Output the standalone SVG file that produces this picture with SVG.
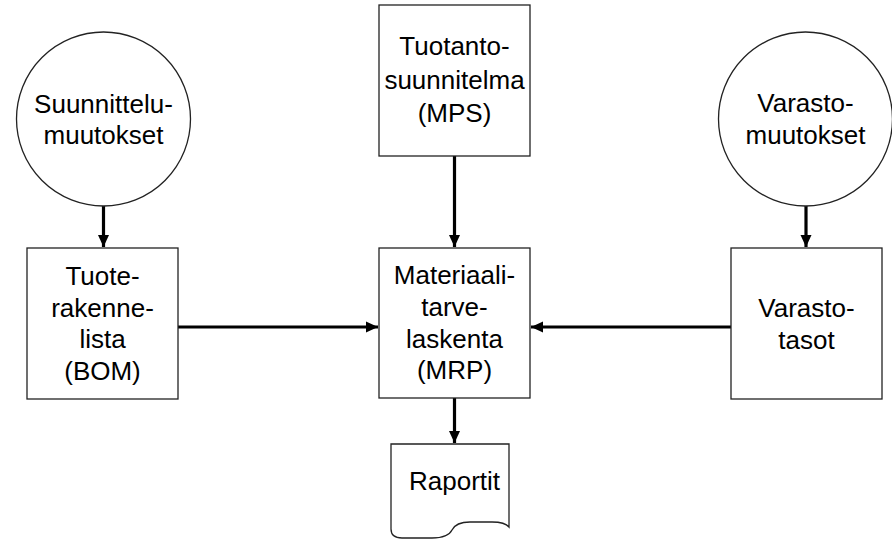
<svg xmlns="http://www.w3.org/2000/svg" width="892" height="539" viewBox="0 0 892 539">
  <style>
    .shape { fill: #ffffff; stroke: #222222; stroke-width: 1.3; }
    .label { font-family: "Liberation Sans", Arial, sans-serif; font-size: 26px; fill: #000000; text-anchor: middle; }
    .flow { fill: none; stroke: #000000; stroke-width: 3.2; marker-end: url(#arrow); }
  </style>
  <defs>
    <marker id="arrow" markerUnits="userSpaceOnUse" markerWidth="14" markerHeight="14" refX="12" refY="6" orient="auto">
      <path d="M0,0.5 L12,6 L0,11.5 Z" fill="#000000"/>
    </marker>
  </defs>

  <rect width="892" height="539" fill="#ffffff"/>

  <!-- connectors -->
  <g id="connectors">
    <line class="flow" x1="103.5" y1="206" x2="103.5" y2="247"/>
    <line class="flow" x1="454.5" y1="156" x2="454.5" y2="247"/>
    <line class="flow" x1="806" y1="206" x2="806" y2="247"/>
    <line class="flow" x1="178" y1="327" x2="378" y2="327"/>
    <line class="flow" x1="731" y1="327" x2="531" y2="327"/>
    <line class="flow" x1="454.5" y1="398" x2="454.5" y2="443"/>
  </g>

  <!-- design changes -->
  <g id="suunnittelumuutokset">
    <circle class="shape" cx="103.5" cy="119" r="87"/>
    <text class="label" x="103.5" y="112.5">Suunnittelu-</text>
    <text class="label" x="103.5" y="144">muutokset</text>
  </g>

  <!-- master production schedule -->
  <g id="mps">
    <rect class="shape" x="379" y="5" width="151" height="151"/>
    <text class="label" x="454.5" y="55">Tuotanto-</text>
    <text class="label" x="454.5" y="88.5">suunnitelma</text>
    <text class="label" x="454.5" y="121.5">(MPS)</text>
  </g>

  <!-- inventory changes -->
  <g id="varastomuutokset">
    <circle class="shape" cx="805.5" cy="119" r="87"/>
    <text class="label" x="805.5" y="112">Varasto-</text>
    <text class="label" x="805.5" y="143.5">muutokset</text>
  </g>

  <!-- bill of materials -->
  <g id="bom">
    <rect class="shape" x="27" y="248" width="151" height="151"/>
    <text class="label" x="102.5" y="285">Tuote-</text>
    <text class="label" x="102.5" y="316.5">rakenne-</text>
    <text class="label" x="102.5" y="348">lista</text>
    <text class="label" x="102.5" y="379.5">(BOM)</text>
  </g>

  <!-- material requirements planning -->
  <g id="mrp">
    <rect class="shape" x="379" y="248" width="151" height="150"/>
    <text class="label" x="454.5" y="284">Materiaali-</text>
    <text class="label" x="454.5" y="316">tarve-</text>
    <text class="label" x="454.5" y="348">laskenta</text>
    <text class="label" x="454.5" y="379">(MRP)</text>
  </g>

  <!-- inventory levels -->
  <g id="varastotasot">
    <rect class="shape" x="731" y="248" width="151" height="151"/>
    <text class="label" x="806.5" y="317">Varasto-</text>
    <text class="label" x="806.5" y="348.5">tasot</text>
  </g>

  <!-- reports (document shape) -->
  <g id="raportit">
    <path class="shape" d="M391,444 H509 V527 Q505,522 492,522 L470,522 Q456,522 452,530 Q448,538 432,538 L402,538 Q391,538 391,529 Z"/>
    <text class="label" x="454.5" y="490">Raportit</text>
  </g>
</svg>
